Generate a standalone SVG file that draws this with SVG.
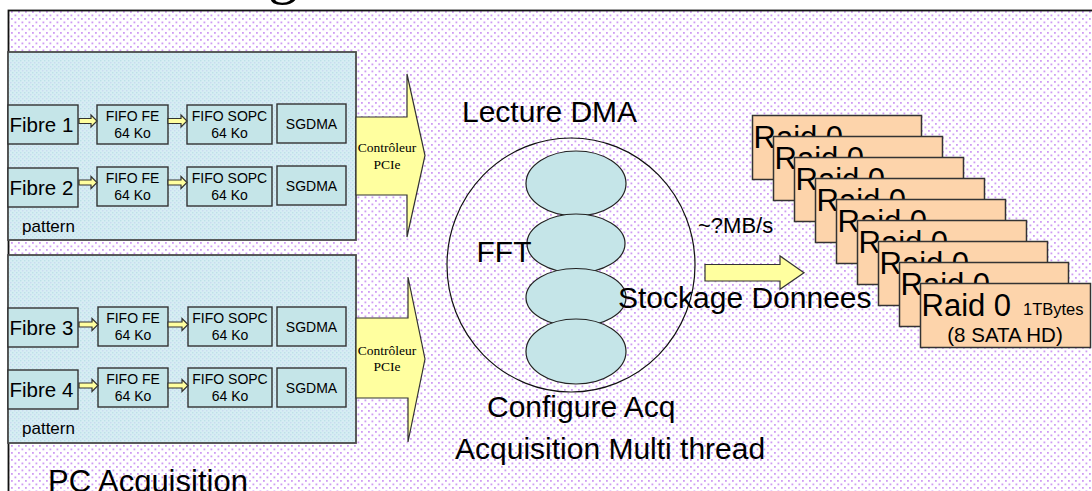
<svg xmlns="http://www.w3.org/2000/svg" width="1092" height="491" viewBox="0 0 1092 491">
<defs>
<pattern id="dots" width="7" height="7" patternUnits="userSpaceOnUse">
<rect width="7" height="7" fill="#ffffff"/>
<rect x="0.5" y="0.5" width="1.8" height="1.8" fill="#cf9cf4"/>
<rect x="4" y="4" width="1.8" height="1.8" fill="#cf9cf4"/>
</pattern>
<pattern id="bdots" width="4" height="4" patternUnits="userSpaceOnUse">
<rect width="4" height="4" fill="#d6edf3"/>
<rect x="0" y="0" width="1.4" height="1.4" fill="#bde0e8"/>
<rect x="2" y="2" width="1.4" height="1.4" fill="#c9daf0"/>
</pattern>
<style>
.sans{font-family:"Liberation Sans",Arial,sans-serif;fill:#000}
.serif{font-family:"Liberation Serif","Times New Roman",serif;fill:#000}
.panel{fill:url(#bdots);stroke:#4a4a4a;stroke-width:1.8}
.box{fill:#c5e5e8;stroke:#333;stroke-width:1.4}
.ell{fill:#c5e5e8;stroke:#222;stroke-width:1.2}
.yarrow{fill:#ffff9f;stroke:#333;stroke-width:1.2}
.raid{fill:#fdd4ab;stroke:#333;stroke-width:1.5}
.big{font-size:30px}
.fib{font-size:20.5px}
.sm{font-size:14px}
.pat{font-size:17px}
.ctl{font-size:13.5px}
</style>
</defs>

<g id="background">
<rect x="0" y="0" width="1092" height="491" fill="#ffffff"/>
<rect x="8.5" y="10.5" width="1100" height="500" fill="url(#dots)" stroke="#111" stroke-width="1.8"/>
<text class="serif" x="268" y="-8" font-size="60">g</text>
</g>

<g id="panel1">
<rect class="panel" x="8" y="52" width="348" height="188"/>
<text class="sans pat" x="22" y="232">pattern</text>
</g>
<g id="panel2">
<rect class="panel" x="8" y="255" width="348" height="188"/>
<text class="sans pat" x="22" y="434">pattern</text>
</g>

<g id="fibre1"><rect class="box" x="8" y="105" width="70" height="39"/><text class="sans fib" x="9.5" y="132">Fibre 1</text></g>
<g id="fifofe1"><rect class="box" x="97" y="105" width="71" height="39"/><text class="sans sm" text-anchor="middle" x="132.5" y="121">FIFO FE</text><text class="sans sm" text-anchor="middle" x="132.5" y="137.5">64 Ko</text></g>
<g id="fifosopc1"><rect class="box" x="187" y="105" width="85" height="39"/><text class="sans sm" text-anchor="middle" x="229.5" y="121">FIFO SOPC</text><text class="sans sm" text-anchor="middle" x="229.5" y="137.5">64 Ko</text></g>
<g id="sgdma1"><rect class="box" x="277" y="104" width="69" height="39"/><text class="sans sm" text-anchor="middle" x="311.5" y="129">SGDMA</text></g>

<g id="fibre2"><rect class="box" x="8" y="168" width="70" height="39"/><text class="sans fib" x="9.5" y="195">Fibre 2</text></g>
<g id="fifofe2"><rect class="box" x="97" y="167" width="71" height="39"/><text class="sans sm" text-anchor="middle" x="132.5" y="183">FIFO FE</text><text class="sans sm" text-anchor="middle" x="132.5" y="199.5">64 Ko</text></g>
<g id="fifosopc2"><rect class="box" x="187" y="167" width="85" height="39"/><text class="sans sm" text-anchor="middle" x="229.5" y="183">FIFO SOPC</text><text class="sans sm" text-anchor="middle" x="229.5" y="199.5">64 Ko</text></g>
<g id="sgdma2"><rect class="box" x="277" y="166" width="69" height="39"/><text class="sans sm" text-anchor="middle" x="311.5" y="191">SGDMA</text></g>

<g id="fibre3"><rect class="box" x="8" y="308" width="70" height="39"/><text class="sans fib" x="9.5" y="335">Fibre 3</text></g>
<g id="fifofe3"><rect class="box" x="98" y="307" width="70" height="39"/><text class="sans sm" text-anchor="middle" x="133" y="323">FIFO FE</text><text class="sans sm" text-anchor="middle" x="133" y="339.5">64 Ko</text></g>
<g id="fifosopc3"><rect class="box" x="188" y="307" width="84" height="39"/><text class="sans sm" text-anchor="middle" x="230" y="323">FIFO SOPC</text><text class="sans sm" text-anchor="middle" x="230" y="339.5">64 Ko</text></g>
<g id="sgdma3"><rect class="box" x="277" y="307" width="69" height="39"/><text class="sans sm" text-anchor="middle" x="311.5" y="332">SGDMA</text></g>

<g id="fibre4"><rect class="box" x="8" y="370" width="70" height="39"/><text class="sans fib" x="9.5" y="397">Fibre 4</text></g>
<g id="fifofe4"><rect class="box" x="98" y="368" width="70" height="39"/><text class="sans sm" text-anchor="middle" x="133" y="384">FIFO FE</text><text class="sans sm" text-anchor="middle" x="133" y="400.5">64 Ko</text></g>
<g id="fifosopc4"><rect class="box" x="188" y="368" width="84" height="39"/><text class="sans sm" text-anchor="middle" x="230" y="384">FIFO SOPC</text><text class="sans sm" text-anchor="middle" x="230" y="400.5">64 Ko</text></g>
<g id="sgdma4"><rect class="box" x="277" y="368" width="69" height="39"/><text class="sans sm" text-anchor="middle" x="311.5" y="393">SGDMA</text></g>

<g id="pcie1">
<path class="yarrow" d="M356 117 H407 V74 L425 155.5 L407 237 V195 H356 Z"/>
<text class="serif ctl" text-anchor="middle" x="387" y="152">Contrôleur</text>
<text class="serif ctl" text-anchor="middle" x="387" y="169">PCIe</text>
</g>
<g id="pcie2">
<path class="yarrow" d="M356 318 H408 V277 L425 359 L408 442 V398 H356 Z"/>
<text class="serif ctl" text-anchor="middle" x="387" y="355">Contrôleur</text>
<text class="serif ctl" text-anchor="middle" x="387" y="371">PCIe</text>
</g>

<g id="acquisition">
<ellipse cx="571" cy="265" rx="124" ry="127" fill="none" stroke="#111" stroke-width="1.2"/>
<ellipse class="ell" cx="576" cy="183.5" rx="50" ry="32.5"/>
<ellipse class="ell" cx="576" cy="243.5" rx="49" ry="29.5"/>
<ellipse class="ell" cx="576" cy="297.5" rx="50" ry="29"/>
<ellipse class="ell" cx="576" cy="351.5" rx="50" ry="32.5"/>
<text class="sans big" x="462" y="122" font-size="31">Lecture DMA</text>
<text class="sans big" x="476.5" y="262">FFT</text>
<text class="sans big" x="618" y="308">Stockage Donnees</text>
<text class="sans big" x="487" y="417">Configure Acq</text>
<text class="sans big" x="455" y="459">Acquisition Multi thread</text>
</g>

<g id="pc-label">
<text class="sans" x="48" y="492" font-size="31">PC Acquisition</text>
</g>

<g id="rate-label">
<text class="sans" x="698" y="233" font-size="22">~?MB/s</text>
</g>

<g id="raid-stack">
<g id="raid1"><rect class="raid" x="752.5" y="115.5" width="169" height="64"/><text class="sans" x="753.5" y="147.5" font-size="31">Raid 0</text><text class="sans" x="855" y="147.5" font-size="16.5">1TBytes</text></g>
<g id="raid2"><rect class="raid" x="773.5" y="136.5" width="169" height="64"/><text class="sans" x="774.5" y="168.5" font-size="31">Raid 0</text><text class="sans" x="876" y="168.5" font-size="16.5">1TBytes</text></g>
<g id="raid3"><rect class="raid" x="794.5" y="157.5" width="169" height="64"/><text class="sans" x="795.5" y="189.5" font-size="31">Raid 0</text><text class="sans" x="897" y="189.5" font-size="16.5">1TBytes</text></g>
<g id="raid4"><rect class="raid" x="815.5" y="178.5" width="169" height="64"/><text class="sans" x="816.5" y="210.5" font-size="31">Raid 0</text><text class="sans" x="918" y="210.5" font-size="16.5">1TBytes</text></g>
<g id="raid5"><rect class="raid" x="836.5" y="199.5" width="169" height="64"/><text class="sans" x="837.5" y="231.5" font-size="31">Raid 0</text><text class="sans" x="939" y="231.5" font-size="16.5">1TBytes</text></g>
<g id="raid6"><rect class="raid" x="857.5" y="220.5" width="169" height="64"/><text class="sans" x="858.5" y="252.5" font-size="31">Raid 0</text><text class="sans" x="960" y="252.5" font-size="16.5">1TBytes</text></g>
<g id="raid7"><rect class="raid" x="878.5" y="241.5" width="169" height="64"/><text class="sans" x="879.5" y="273.5" font-size="31">Raid 0</text><text class="sans" x="981" y="273.5" font-size="16.5">1TBytes</text></g>
<g id="raid8"><rect class="raid" x="899.5" y="262.5" width="169" height="64"/><text class="sans" x="900.5" y="294.5" font-size="31">Raid 0</text><text class="sans" x="1002" y="294.5" font-size="16.5">1TBytes</text></g>
<g id="raid9"><rect class="raid" x="920.5" y="283.5" width="170" height="64"/><text class="sans" x="921.5" y="315.5" font-size="31">Raid 0</text><text class="sans" x="1023" y="314.5" font-size="16.5">1TBytes</text><text class="sans" x="1005" y="342" font-size="20.5" text-anchor="middle">(8 SATA HD)</text></g>
</g>

<g id="connectors">
<path class="yarrow" d="M79 118.5 H91 V115 L97 121 L91 127 V123.5 H79 Z"/>
<path class="yarrow" d="M168 118.5 H181 V115 L187 121 L181 127 V123.5 H168 Z"/>
<path class="yarrow" d="M79 180 H91 V176.5 L97 182.5 L91 188.5 V185 H79 Z"/>
<path class="yarrow" d="M168 180 H181 V176.5 L187 182.5 L181 188.5 V185 H168 Z"/>
<path class="yarrow" d="M79 322 H92 V318.5 L98 324.5 L92 330.5 V327 H79 Z"/>
<path class="yarrow" d="M168 322 H182 V318.5 L188 324.5 L182 330.5 V327 H168 Z"/>
<path class="yarrow" d="M79 383 H92 V379.5 L98 385.5 L92 391.5 V388 H79 Z"/>
<path class="yarrow" d="M168 383 H182 V379.5 L188 385.5 L182 391.5 V388 H168 Z"/>
<path class="yarrow" d="M705 264.5 H780 V256 L804 272.7 L780 289.3 V281 H705 Z"/>
</g>
</svg>
